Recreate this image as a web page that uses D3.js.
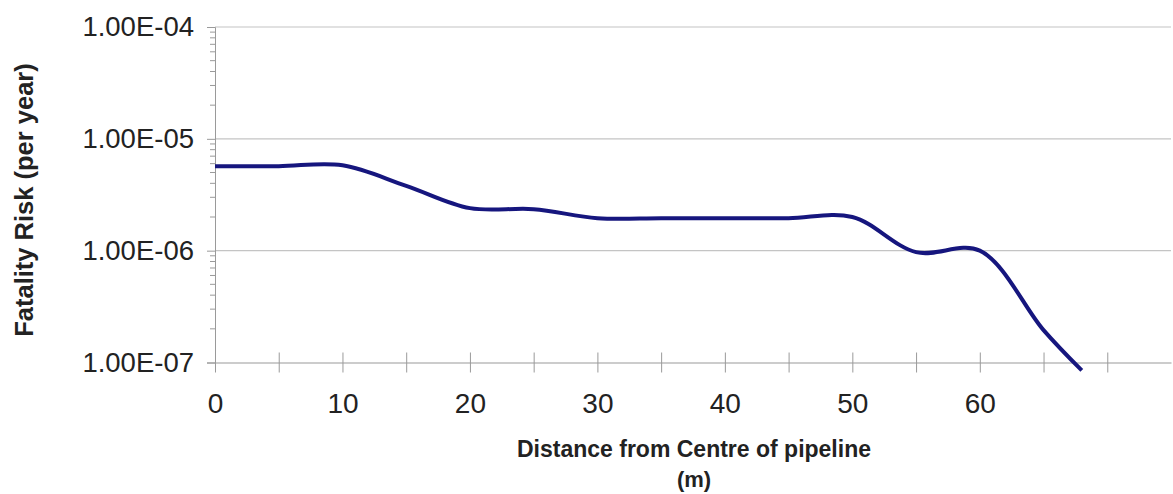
<!DOCTYPE html>
<html lang="en">
<head>
    <meta charset="UTF-8">
    <title>Fatality Risk vs Distance</title>
    <style>
        body { margin: 0; background: #ffffff; }
        svg { display: block; font-family: "Liberation Sans", Arial, sans-serif; }
    </style>
</head>
<body>
    <div id="chart"></div>

    <script src="https://cdnjs.cloudflare.com/ajax/libs/d3/7.8.5/d3.min.js"></script>
    <script>
        //data
        let distances = [0, 5, 10, 15, 20, 25, 30, 35, 40, 45, 50, 55, 60, 65, 68];
        let riskValues = [5.7e-6, 5.7e-6, 5.8e-6, 3.8e-6, 2.4e-6, 2.35e-6, 1.95e-6, 1.95e-6,
                          1.95e-6, 1.95e-6, 2.0e-6, 9.7e-7, 1.0e-6, 1.95e-7, 8.5e-8];
        let yTickValues = [1e-4, 1e-5, 1e-6, 1e-7];
        let yTickLabels = ['1.00E-04', '1.00E-05', '1.00E-06', '1.00E-07'];
        let xTickValues = [0, 5, 10, 15, 20, 25, 30, 35, 40, 45, 50, 55, 60, 65, 70];
        let xLabelValues = [0, 10, 20, 30, 40, 50, 60];

        let width = 1173;
        let height = 494;

        let svg = d3.select('#chart')
            .append('svg')
            .attr('width', width)
            .attr('height', height);

        //plot area
        let plotLeft = 215, plotRight = 1171, plotTop = 27, plotBottom = 362.5;

        let x = d3.scaleLinear().domain([0, 75]).range([plotLeft, plotRight]);
        let y = d3.scaleLog().domain([1e-7, 1e-4]).range([plotBottom, plotTop]);

        //horizontal gridlines
        svg.append('g')
            .selectAll('line')
            .data(yTickValues.slice(0, 3))
            .enter()
            .append('line')
            .attr('x1', plotLeft)
            .attr('x2', plotRight)
            .attr('y1', d => y(d))
            .attr('y2', d => y(d))
            .attr('stroke', '#c4c4c4')
            .attr('stroke-width', 1.2);

        //y axis: minor log ticks
        let minorTicks = y.ticks().filter(d => yTickValues.indexOf(d) < 0);
        svg.append('g')
            .selectAll('line')
            .data(minorTicks)
            .enter()
            .append('line')
            .attr('x1', plotLeft - 5)
            .attr('x2', plotLeft)
            .attr('y1', d => y(d))
            .attr('y2', d => y(d))
            .attr('stroke', '#9a9a9a');

        let yAxis = d3.axisLeft(y)
            .tickValues(yTickValues)
            .tickSize(8)
            .tickPadding(13)
            .tickFormat((d, i) => yTickLabels[i]);

        let gy = svg.append('g')
            .attr('transform', `translate(${plotLeft},0)`)
            .call(yAxis);
        gy.select('.domain').attr('stroke', '#9a9a9a');
        gy.selectAll('.tick line').attr('stroke', '#9a9a9a');
        gy.selectAll('.tick text')
            .attr('font-size', 27.5)
            .attr('fill', '#222')
            .attr('font-family', '"Liberation Sans", Arial, sans-serif');

        //x axis with crossing ticks
        let xAxis = d3.axisBottom(x)
            .tickValues(xTickValues)
            .tickSizeInner(10)
            .tickSizeOuter(0)
            .tickFormat(d => xLabelValues.indexOf(d) >= 0 ? d : '');

        let gx = svg.append('g')
            .attr('transform', `translate(0,${plotBottom})`)
            .call(xAxis);
        gx.select('.domain').attr('stroke', '#9a9a9a').attr('stroke-width', 1.2);
        gx.selectAll('.tick line').attr('stroke', '#9a9a9a').attr('y1', -10);
        gx.selectAll('.tick text')
            .attr('y', 30.5)
            .attr('dy', '0.71em')
            .attr('font-size', 28)
            .attr('fill', '#222')
            .attr('font-family', '"Liberation Sans", Arial, sans-serif');

        //the risk line
        let line = d3.line()
            .x((d, i) => x(distances[i]))
            .y(d => y(d))
            .curve(d3.curveCatmullRom.alpha(0.5));

        svg.append('path')
            .datum(riskValues)
            .attr('d', line)
            .attr('fill', 'none')
            .attr('stroke', '#16167e')
            .attr('stroke-width', 4)
            .attr('stroke-linejoin', 'round');

        //axis titles
        svg.append('text')
            .attr('transform', 'translate(33,200) rotate(-90)')
            .attr('text-anchor', 'middle')
            .attr('font-size', 25.5)
            .attr('font-weight', 'bold')
            .attr('fill', '#222')
            .text('Fatality Risk (per year)');

        svg.append('text')
            .attr('x', 694)
            .attr('y', 457)
            .attr('text-anchor', 'middle')
            .attr('font-size', 23)
            .attr('font-weight', 'bold')
            .attr('fill', '#222')
            .text('Distance from Centre of pipeline');

        svg.append('text')
            .attr('x', 694)
            .attr('y', 487)
            .attr('text-anchor', 'middle')
            .attr('font-size', 22)
            .attr('font-weight', 'bold')
            .attr('fill', '#222')
            .text('(m)');
    </script>
</body>
</html>
